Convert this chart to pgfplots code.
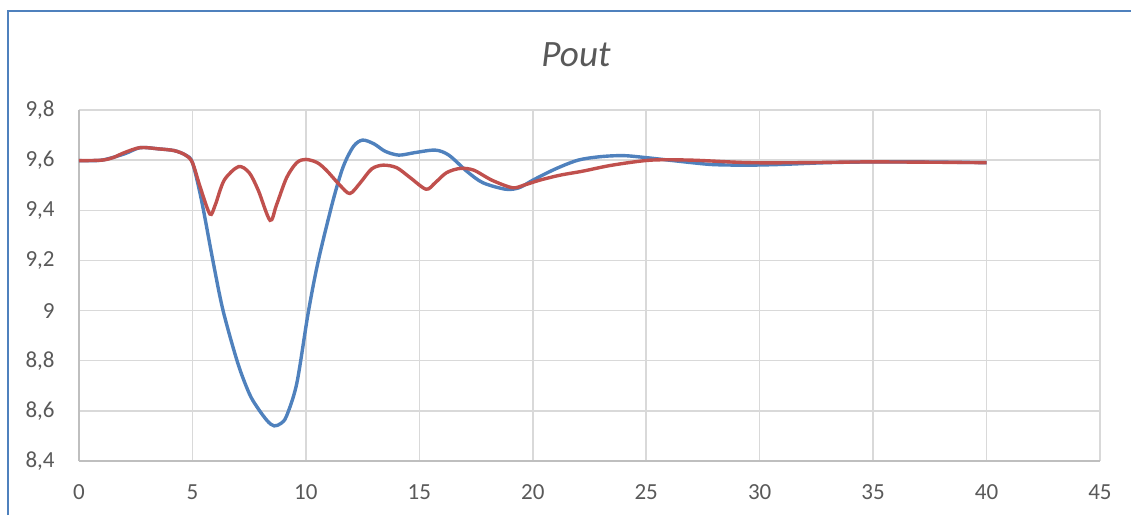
\documentclass[border=0pt]{standalone}
\usepackage{pgfplots}
\pgfplotsset{compat=1.18}
\usepackage{fontspec}
\setmainfont{Carlito}
\definecolor{sblue}{RGB}{79,129,189}
\definecolor{sred}{RGB}{192,80,77}
\definecolor{gridc}{RGB}{217,217,217}
\definecolor{axc}{RGB}{191,191,191}
\definecolor{txt}{RGB}{89,89,89}
\definecolor{frame}{RGB}{79,129,189}
\begin{document}
\begin{tikzpicture}
\useasboundingbox (-39.5pt,-27pt) rectangle (526pt,230.5pt);
\begin{axis}[
  at={(0,0)}, anchor=south west,
  scale only axis, width=510.5pt, height=175.5pt,
  xmin=0, xmax=45, ymin=8.4, ymax=9.8,
  xtick={0,5,...,45},
  ytick={8.4,8.6,8.8,9.0,9.2,9.4,9.6,9.8},
  yticklabels={{8,4},{8,6},{8,8},{9},{9,2},{9,4},{9,6},{9,8}},
  major tick length=0pt,
  grid=major,
  major grid style={color=gridc, line width=0.75pt},
  axis x line*=bottom, axis y line*=left,
  axis line style={color=axc, line width=1pt, -},
  /pgf/number format/assume math mode=true,
  tick label style={font=\fontsize{11.5}{13}\selectfont, color=txt, inner sep=0pt},
  yticklabel style={anchor=east, xshift=-12pt},
  xticklabel style={anchor=north, yshift=-11.5pt},
  clip=false,
]
\addplot[sblue, line width=1.7pt, smooth, tension=0.5] coordinates {
(0,9.598) (1,9.600) (2,9.625) (2.7,9.650) (3.5,9.645) (4.2,9.638) (4.7,9.62)
(5.0,9.59) (5.4,9.44) (5.9,9.20) (6.35,9.0) (7.0,8.79) (7.5,8.67) (7.85,8.615)
(8.3,8.56) (8.6,8.54) (8.9,8.55) (9.15,8.58) (9.6,8.71) (10.1,8.99) (10.55,9.2)
(11.2,9.44) (11.65,9.575) (12.1,9.655) (12.5,9.68) (13.0,9.665) (13.5,9.635)
(14.1,9.62) (14.8,9.63) (15.7,9.64) (16.3,9.62) (17.1,9.555) (17.8,9.51)
(18.8,9.484) (19.4,9.49) (20.0,9.52) (21.0,9.565) (22.0,9.6) (23.0,9.614)
(24.0,9.618) (25.0,9.61) (26.0,9.6) (27.0,9.59) (28.0,9.582) (29.5,9.58)
(31,9.583) (33,9.59) (35,9.593) (37,9.593) (40,9.59)
};
\addplot[sred, line width=1.7pt, smooth, tension=0.5] coordinates {
(0,9.598) (1,9.600) (1.5,9.61) (2,9.63) (2.7,9.650) (3.5,9.645) (4.2,9.638)
(4.7,9.62) (5.0,9.59) (5.35,9.49) (5.77,9.385) (6.0,9.42) (6.4,9.52) (7.03,9.574)
(7.5,9.55) (7.9,9.48) (8.42,9.36) (8.7,9.42) (9.15,9.53) (9.6,9.59) (10.0,9.603)
(10.5,9.59) (10.9,9.56) (11.5,9.5) (11.94,9.467) (12.4,9.51) (12.9,9.565)
(13.4,9.58) (14.0,9.57) (14.6,9.53) (15.3,9.484) (15.7,9.51) (16.2,9.55)
(16.8,9.567) (17.4,9.56) (18.2,9.52) (19.1,9.49) (19.6,9.5) (20.3,9.52)
(21.2,9.54) (22.2,9.556) (23.5,9.58) (25.2,9.60) (27,9.60) (29.5,9.59)
(32,9.59) (35,9.593) (40,9.59)
};
\end{axis}
\draw[frame, line width=1pt] (-35.25pt,-27pt) -- (-35.25pt,225pt) -- (526pt,225pt);
\node[anchor=base, inner sep=0pt, font=\fontsize{18.6}{22}\selectfont\itshape, text=txt] at (248.5pt,197.2pt) {Pout};
\end{tikzpicture}
\end{document}
